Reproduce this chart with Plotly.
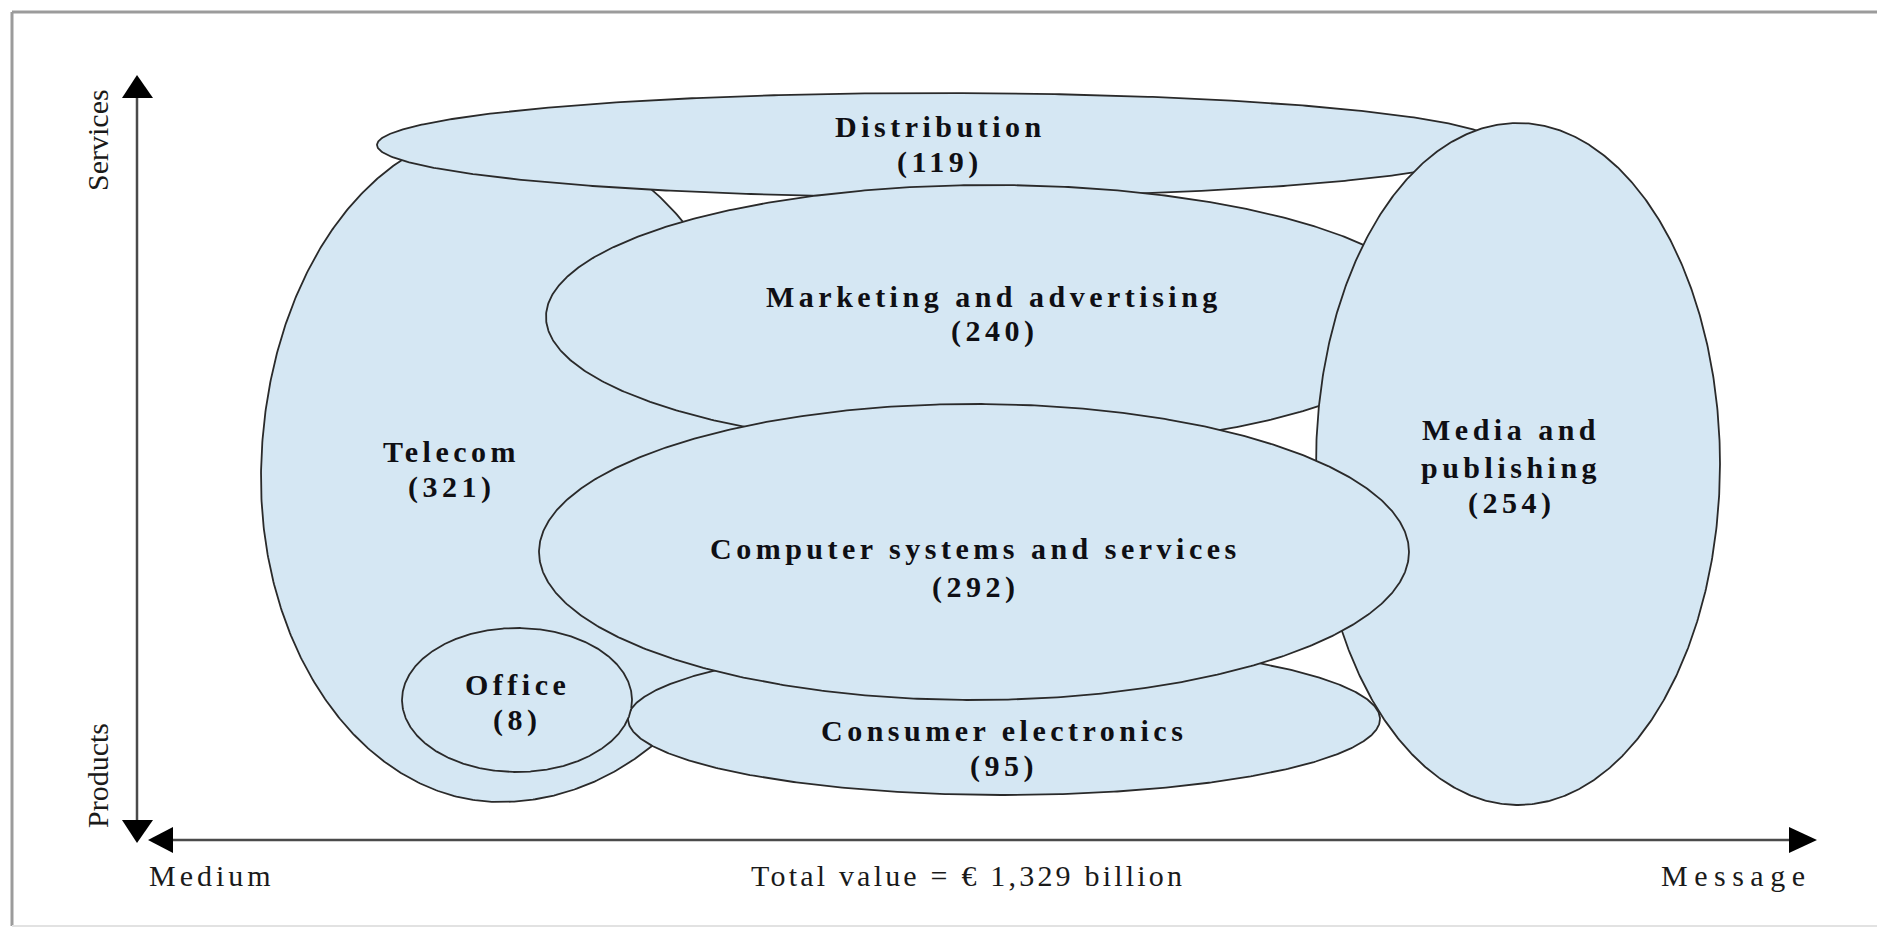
import numpy as np
import plotly.graph_objects as go

W, H = 1877, 935

# market segments and their value (EUR billion)
segments = ["Telecom", "Distribution", "Marketing and advertising", "Media and publishing",
            "Consumer electronics", "Office", "Computer systems and services"]
values = [321, 119, 240, 254, 95, 8, 292]

y_poles = ["Services", "Products"]
x_poles = ["Medium", "Message"]

# blob geometry in pixels (y down): cx, cy, left r, right r, top r, bottom r
# order here = drawing order
blobs = {
    "Telecom": (500, 479, 239, 270, 350, 323),
    "Distribution": (938, 145, 561, 561, 52, 52),
    "Marketing and advertising": (991, 317, 445, 445, 132, 132),
    "Media and publishing": (1518, 464, 202, 202, 341, 341),
    "Consumer electronics": (1004, 719, 376, 376, 76, 76),
    "Office": (517, 700, 115, 115, 72, 72),
    "Computer systems and services": (974, 552, 435, 435, 148, 148),
}
# label lines and where they sit (x, y of each line)
label_lines = {"Media and publishing": ["Media and", "publishing"]}
label_pos = {
    "Telecom": (451, [451, 487]),
    "Distribution": (940, [126, 162]),
    "Marketing and advertising": (994, [296, 331]),
    "Media and publishing": (1511, [429, 467, 503]),
    "Consumer electronics": (1004, [730, 766]),
    "Office": (517, [684, 720]),
    "Computer systems and services": (975, [548, 587]),
}

FILL = "#d5e7f3"
EDGE = "#2a2a2a"
INK = "#0f0f14"
SERIF = "Liberation Serif"


def spaced(s, px=4.5):
    return f'<span style="letter-spacing:{px}px">{s}</span>'


fig = go.Figure()

t = np.linspace(0, 2 * np.pi, 721)
c, s = np.cos(t), np.sin(t)
val = dict(zip(segments, values))
for name, (cx, cy, rl, rr, rt, rb) in blobs.items():
    x = cx + np.where(c >= 0, rr, rl) * c
    y = cy + np.where(s >= 0, rb, rt) * s
    fig.add_trace(go.Scatter(x=x, y=y, mode="lines", fill="toself", fillcolor=FILL,
                             line=dict(color=EDGE, width=1.8), name=name,
                             hoverinfo="skip", showlegend=False))

for name in segments:
    lx, ys = label_pos[name]
    lines = label_lines.get(name, [name]) + [f"({val[name]})"]
    for txt, ly in zip(lines, ys):
        fig.add_annotation(x=lx, y=ly, text=spaced(txt), showarrow=False,
                           xanchor="center", yanchor="middle",
                           font=dict(family=SERIF, size=30, color=INK, weight="bold"))

# axes with arrowheads
AX = "#4a4a4a"
shapes = [
    dict(type="line", x0=12, y0=12, x1=W, y1=12, line=dict(color="#9b9b9b", width=3)),
    dict(type="line", x0=12, y0=12, x1=12, y1=926, line=dict(color="#9b9b9b", width=3)),
    dict(type="line", x0=12, y0=926, x1=W, y1=926, line=dict(color="#e2e2e2", width=2)),
    dict(type="line", x0=137, y0=95, x1=137, y1=822, line=dict(color=AX, width=2.5)),
    dict(type="line", x0=170, y0=840, x1=1790, y1=840, line=dict(color=AX, width=2.5)),
    dict(type="path", path="M 122,98 L 137,75 L 153,98 Z", fillcolor="black", line=dict(width=0)),
    dict(type="path", path="M 122,820 L 137,843 L 153,820 Z", fillcolor="black", line=dict(width=0)),
    dict(type="path", path="M 173,827 L 148,840 L 173,853 Z", fillcolor="black", line=dict(width=0)),
    dict(type="path", path="M 1789,827 L 1817,840 L 1789,853 Z", fillcolor="black", line=dict(width=0)),
]
for sh in shapes:
    sh.update(xref="x", yref="y", layer="above")
    fig.add_shape(**sh)

reg = dict(family=SERIF, size=30, color="#1a1a1a")
fig.add_annotation(x=97, y=140, text=y_poles[0], textangle=-90, showarrow=False, font=reg,
                   xanchor="center", yanchor="middle")
fig.add_annotation(x=97, y=776, text=y_poles[1], textangle=-90, showarrow=False, font=reg,
                   xanchor="center", yanchor="middle")
fig.add_annotation(x=147, y=875, text=spaced(x_poles[0], 4), showarrow=False, font=reg,
                   xanchor="left", yanchor="middle")
fig.add_annotation(x=1813, y=875, text=spaced(x_poles[1], 6.5), showarrow=False, font=reg,
                   xanchor="right", yanchor="middle")
fig.add_annotation(x=968, y=875, text=spaced(f"Total value = € {sum(values):,} billion", 3.2),
                   showarrow=False, font=reg, xanchor="center", yanchor="middle")

fig.update_layout(
    width=W, height=H, margin=dict(l=0, r=0, t=0, b=0),
    paper_bgcolor="white", plot_bgcolor="white",
    xaxis=dict(range=[0, W], visible=False, fixedrange=True),
    yaxis=dict(range=[H, 0], visible=False, fixedrange=True),
    showlegend=False,
)

fig.write_html("out.html", config={"displayModeBar": False},
               post_script="document.body.style.margin='0';document.body.style.overflow='hidden';")
